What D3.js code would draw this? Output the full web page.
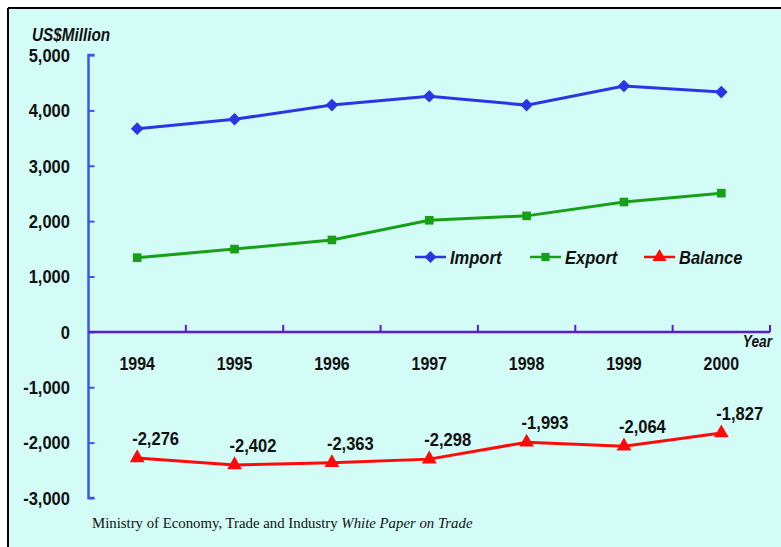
<!DOCTYPE html>
<html><head><meta charset="utf-8">
<script src="https://cdn.jsdelivr.net/npm/d3@7"></script>
<style>
html,body{margin:0;padding:0;background:#fff;}
svg{display:block;}
</style></head>
<body>
<svg id="chart" width="781" height="547"></svg>
<script>
const years = ["1994","1995","1996","1997","1998","1999","2000"];
const importVals = [3670, 3840, 4095, 4255, 4095, 4440, 4330];
const exportVals = [1340, 1495, 1660, 2015, 2095, 2345, 2505];
const balanceVals = [-2276, -2402, -2363, -2298, -1993, -2064, -1827];
const yTicks = [5000, 4000, 3000, 2000, 1000, 0, -1000, -2000, -3000];
const seriesNames = ["Import", "Export", "Balance"];
const seriesColors = ["#2b35e6", "#17a017", "#ff0a0a"];

const SANS = "'Liberation Sans', Arial, sans-serif";
const SX = 0.87;
const svg = d3.select("#chart");
svg.append("rect").attr("x", 8).attr("y", 8).attr("width", 773).attr("height", 539)
  .attr("fill", "#d4fcf6");
svg.append("line").attr("x1", 8).attr("x2", 781).attr("y1", 8).attr("y2", 8).attr("stroke", "#000").attr("stroke-width", 2);
svg.append("line").attr("x1", 8).attr("x2", 8).attr("y1", 8).attr("y2", 547).attr("stroke", "#000").attr("stroke-width", 2);

const x0 = 88.5, x1 = 770;
const x = d3.scaleBand().domain(years).range([x0, x1]);
const y = d3.scaleLinear().domain([-3000, 5000]).range([498, 55]);
const fmt = v => d3.format(",")(v).replace("\u2212", "-");

// condensed text helper
function ctext(sel, size, italic, sx) {
  return sel.attr("font-family", SANS).attr("font-weight", "bold")
    .attr("font-style", italic ? "italic" : "normal")
    .attr("font-size", size).attr("fill", "#111");
}

// y axis
const yAxis = d3.axisRight(y).tickValues(yTicks).tickSize(6).tickFormat("");
const gy = svg.append("g").attr("transform", `translate(${x0},0)`).call(yAxis);
gy.select(".domain").attr("stroke", "#3a55f0").attr("stroke-width", 2.5).attr("d", `M6,${y(5000)}H0V${y(-3000)}H6`);
gy.selectAll(".tick line").attr("stroke", "#3a55f0").attr("stroke-width", 2);
ctext(svg.append("g").selectAll("text").data(yTicks).join("text")
  .attr("transform", d => `translate(70,${y(d)}) scale(${SX},1)`).attr("dy", "0.36em")
  .attr("text-anchor", "end"), 19)
  .text(d => fmt(d));

// x axis at zero
const gx = svg.append("g").attr("transform", `translate(0,${y(0)})`);
gx.append("line").attr("x1", x0).attr("x2", x1).attr("y1", 0).attr("y2", 0)
  .attr("stroke", "#5a1ad6").attr("stroke-width", 2.5);
gx.selectAll("line.tk").data(years).join("line").attr("class", "tk")
  .attr("x1", d => x(d) + x.bandwidth()).attr("x2", d => x(d) + x.bandwidth())
  .attr("y1", 0).attr("y2", -7).attr("stroke", "#5a1ad6").attr("stroke-width", 2);
ctext(svg.append("g").selectAll("text").data(years).join("text")
  .attr("transform", d => `translate(${x(d) + x.bandwidth() / 2},370) scale(0.84,1)`)
  .attr("text-anchor", "middle"), 19)
  .text(d => d);

ctext(svg.append("text").attr("transform", "translate(772,347) scale(0.83,1)").attr("text-anchor", "end"), 16.5, true)
  .text("Year");
ctext(svg.append("text").attr("transform", "translate(32,41) scale(0.85,1)"), 18, true)
  .text("US$Million");

const cx = d => x(d) + x.bandwidth() / 2;
const line = d3.line().x(d => cx(d.year)).y(d => y(d.v));
const allSeries = [importVals, exportVals, balanceVals].map((vals, i) => ({
  name: seriesNames[i], color: seriesColors[i],
  pts: vals.map((v, j) => ({ year: years[j], v }))
}));
const symbols = [d3.symbolSquare, d3.symbolSquare, d3.symbolTriangle];
const symSizes = [80, 75, 95];
const symRot = [45, 0, 0];

allSeries.forEach((s, i) => {
  svg.append("path").datum(s.pts).attr("d", line).attr("fill", "none")
    .attr("stroke", s.color).attr("stroke-width", 3);
  svg.append("g").selectAll("path").data(s.pts).join("path")
    .attr("transform", d => `translate(${cx(d.year)},${y(d.v)}) rotate(${symRot[i]})`)
    .attr("d", d3.symbol().type(symbols[i]).size(symSizes[i]))
    .attr("fill", s.color);
});

// balance labels
ctext(svg.append("g").selectAll("text").data(allSeries[2].pts).join("text")
  .attr("transform", d => `translate(${cx(d.year) - 5},${y(d.v) - 13}) scale(${SX},1)`), 19)
  .text(d => fmt(d.v));

// legend
const legX = [415, 530, 644];
const legY = 257;
allSeries.forEach((s, i) => {
  const g = svg.append("g").attr("transform", `translate(${legX[i]},${legY})`);
  g.append("line").attr("x1", 0).attr("x2", 31).attr("y1", 0).attr("y2", 0)
    .attr("stroke", s.color).attr("stroke-width", 2.5);
  g.append("path").attr("transform", `translate(15.5,0) rotate(${symRot[i]})`)
    .attr("d", d3.symbol().type(symbols[i]).size(symSizes[i] * 0.9)).attr("fill", s.color);
  ctext(g.append("text").attr("transform", `translate(35,0) scale(${SX},1)`).attr("dy", "0.36em"), 19, true)
    .text(s.name);
});

// source
const src = svg.append("text").attr("x", 92).attr("y", 528)
  .attr("font-family", "'Liberation Serif', 'Times New Roman', serif").attr("font-size", 14.8).attr("fill", "#111");
src.append("tspan").text("Ministry of Economy, Trade and Industry ");
src.append("tspan").attr("font-style", "italic").text("White Paper on Trade");
</script>
</body></html>
